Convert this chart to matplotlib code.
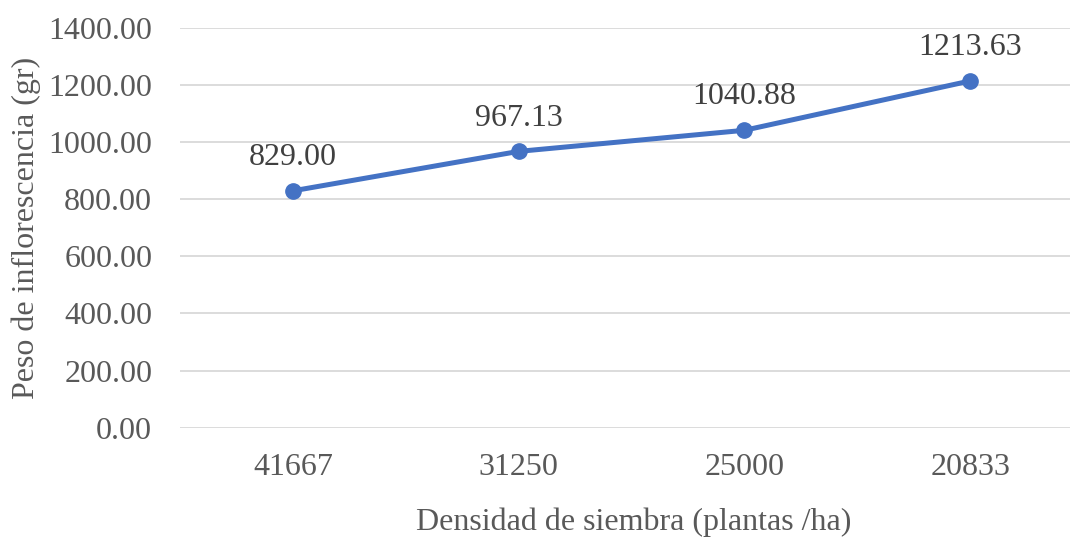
import matplotlib.pyplot as plt

plt.rcParams['font.family'] = ['Liberation Serif', 'DejaVu Serif']

densidad = ['41667', '31250', '25000', '20833']
peso = [829.00, 967.13, 1040.88, 1213.63]
yticks = [0, 200, 400, 600, 800, 1000, 1200, 1400]

fig = plt.figure(figsize=(10.7, 5.37), dpi=100)
ax = fig.add_axes([180/1070, 109.3/537, 903/1070, 400/537])

x = range(len(densidad))
ax.plot(x, peso, color='#4472C4', linewidth=3.6, marker='o', markersize=11,
        solid_capstyle='round', zorder=3)
for xi, v in zip(x, peso):
    ax.annotate('%.2f' % v, (xi, v), xytext=(0, 24), textcoords='offset points',
                ha='center', va='center', fontsize=23, color='#404040')

ax.set_xlim(-0.5, len(densidad) - 0.5)
ax.set_ylim(0, 1400)
ax.set_yticks(yticks)
ax.set_yticklabels(['%.2f' % t for t in yticks])
ax.set_xticks(list(x))
ax.set_xticklabels(densidad)
ax.tick_params(axis='both', length=0, labelsize=23, labelcolor='#595959')
ax.tick_params(axis='y', pad=20)
ax.tick_params(axis='x', pad=18)
ax.grid(axis='y', color='#D9D9D9', linewidth=1.3)
ax.set_axisbelow(True)
for s in ax.spines.values():
    s.set_visible(False)

ax.set_ylabel('Peso de inflorescencia (gr)', fontsize=23, color='#595959')
ax.set_xlabel('Densidad de siembra (plantas /ha)', fontsize=23, color='#595959')
ax.yaxis.set_label_coords(-139/903, 0.5)
ax.xaxis.set_label_coords((634 - 180)/903, -80/400)

fig.savefig('out.png', dpi=100)
